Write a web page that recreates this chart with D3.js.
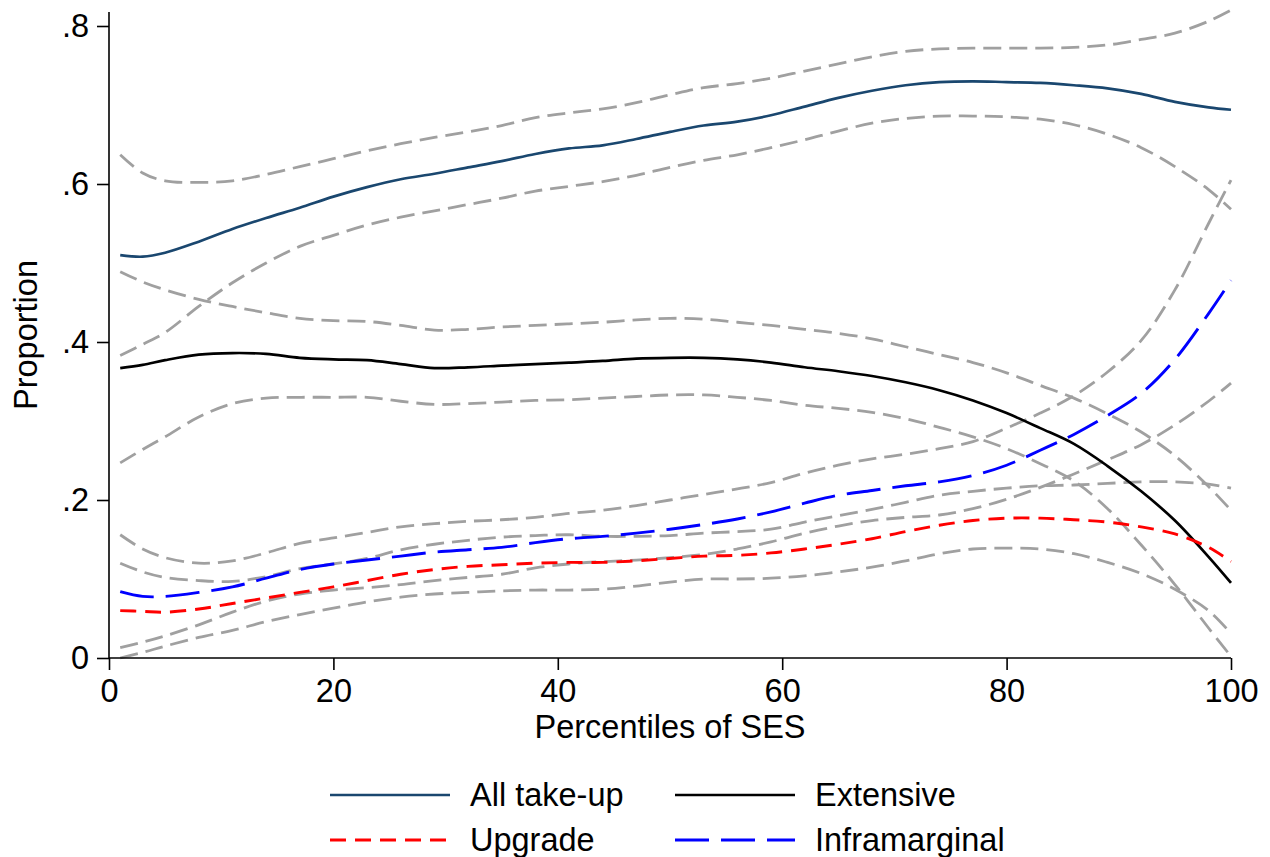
<!DOCTYPE html>
<html>
<head>
<meta charset="utf-8">
<script src="https://cdn.jsdelivr.net/npm/d3@7"></script>
<style>
  body { margin: 0; background: #fff; }
  svg { display: block; font-family: "Liberation Sans", Arial, sans-serif; }
</style>
</head>
<body>
<svg id="chart" width="1270" height="857"></svg>
<script>
// percentile grid shared by every series
const pct = [1, 3, 5, 8, 11, 14, 17, 20, 23, 26, 29, 32, 35, 38, 41, 44, 47, 50, 53, 56, 59, 62, 65, 68, 71, 74, 77, 80, 83, 86, 89, 92, 95, 98, 100];

const allTakeUp = [.510, .508, .513, .527, .543, .557, .570, .584, .596, .606, .613, .621, .629, .638, .645, .649, .657, .666, .674, .679, .687, .698, .709, .718, .725, .729, .730, .729, .728, .725, .721, .714, .704, .697, .694];
const allHi = [.637, .614, .604, .602, .604, .612, .622, .632, .642, .651, .659, .666, .674, .684, .690, .695, .703, .713, .722, .727, .734, .743, .752, .761, .768, .771, .772, .772, .772, .773, .776, .783, .791, .806, .820];
const allLo = [.383, .397, .412, .445, .475, .500, .521, .535, .548, .558, .566, .574, .582, .591, .597, .603, .611, .621, .630, .637, .646, .656, .667, .677, .683, .686, .686, .685, .682, .675, .663, .646, .622, .593, .568];

const extensive = [.367, .371, .377, .384, .386, .385, .380, .378, .377, .372, .367, .368, .370, .372, .374, .376, .379, .380, .380, .378, .374, .368, .363, .357, .349, .339, .326, .310, .291, .271, .243, .211, .174, .128, .095];
const extHi = [.489, .476, .466, .454, .445, .437, .430, .427, .426, .421, .415, .416, .419, .421, .423, .425, .428, .430, .429, .425, .421, .416, .411, .404, .394, .384, .374, .361, .345, .329, .309, .286, .256, .217, .187];
const extLo = [.247, .264, .280, .305, .322, .329, .330, .330, .330, .325, .321, .322, .324, .326, .327, .329, .331, .333, .333, .330, .326, .320, .316, .311, .303, .292, .280, .265, .246, .224, .189, .143, .093, .038, .002];

const upgrade = [.060, .059, .058, .062, .069, .076, .083, .090, .098, .106, .112, .116, .118, .120, .121, .121, .123, .126, .129, .130, .133, .138, .144, .151, .160, .168, .174, .177, .177, .175, .172, .166, .157, .140, .122];
const upgHi = [.120, .109, .102, .098, .097, .103, .113, .119, .126, .137, .144, .149, .153, .155, .156, .154, .154, .155, .158, .160, .163, .172, .180, .188, .197, .206, .211, .215, .218, .219, .221, .223, .223, .220, .215];
const upgLo = [.000, .007, .015, .026, .035, .046, .055, .063, .071, .077, .081, .083, .085, .086, .086, .087, .091, .096, .100, .100, .101, .104, .109, .115, .123, .132, .138, .139, .138, .132, .121, .107, .087, .060, .031];

const inframarginal = [.084, .078, .078, .083, .090, .101, .112, .119, .124, .129, .134, .137, .140, .146, .151, .154, .158, .163, .169, .176, .185, .196, .206, .212, .218, .223, .231, .244, .263, .283, .307, .335, .378, .436, .478];
const infHi = [.156, .138, .127, .120, .123, .133, .145, .152, .159, .166, .170, .173, .175, .178, .183, .187, .193, .200, .207, .214, .222, .234, .244, .252, .258, .265, .274, .291, .310, .332, .362, .402, .466, .550, .605];
const infLo = [.013, .020, .028, .042, .058, .072, .081, .086, .089, .093, .098, .102, .106, .114, .119, .122, .124, .127, .131, .138, .147, .158, .167, .174, .178, .181, .189, .201, .216, .233, .251, .270, .295, .325, .348];

const xTicks = [0, 20, 40, 60, 80, 100];
const yTicks = [0, 0.2, 0.4, 0.6, 0.8];

const svg = d3.select("#chart");
const fontSize = 32.5;

const x = d3.scaleLinear().domain([0, 100]).range([109, 1231]);
const y = d3.scaleLinear().domain([0, 0.8]).range([658, 26]);

const ciStyle = { color: "#a0a0a0", width: 2.8, dash: "18,8" };
const mainSeries = [
  { name: "All take-up", values: allTakeUp, color: "#1a476f", width: 2.7, dash: null },
  { name: "Extensive", values: extensive, color: "#000000", width: 2.7, dash: null },
  { name: "Upgrade", values: upgrade, color: "#ff0000", width: 2.9, dash: "16,9" },
  { name: "Inframarginal", values: inframarginal, color: "#0000ff", width: 2.9, dash: "34,12" }
];
const ciSeries = [allHi, allLo, extHi, extLo, upgHi, upgLo, infHi, infLo];

const line = d3
  .line()
  .x((d, i) => x(pct[i]))
  .y((d) => y(d))
  .curve(d3.curveCatmullRom.alpha(0.5));

// confidence bands first, estimates on top
svg
  .append("g")
  .selectAll("path")
  .data(ciSeries)
  .join("path")
  .attr("d", line)
  .attr("fill", "none")
  .attr("stroke", ciStyle.color)
  .attr("stroke-width", ciStyle.width)
  .attr("stroke-dasharray", ciStyle.dash);

svg
  .append("g")
  .selectAll("path")
  .data(mainSeries)
  .join("path")
  .attr("d", (d) => line(d.values))
  .attr("fill", "none")
  .attr("stroke", (d) => d.color)
  .attr("stroke-width", (d) => d.width)
  .attr("stroke-dasharray", (d) => d.dash);

// axes
const fmtY = (v) => (v === 0 ? "0" : d3.format(".1f")(v).replace(/^0/, ""));

const yAxis = svg
  .append("g")
  .attr("transform", `translate(${x(0)},0)`)
  .call(d3.axisLeft(y).tickValues(yTicks).tickFormat(fmtY).tickSize(12).tickPadding(8));
yAxis.select(".domain").attr("d", `M0,${y(0)}V12`);

const xAxis = svg
  .append("g")
  .attr("transform", `translate(0,${y(0)})`)
  .call(d3.axisBottom(x).tickValues(xTicks).tickSize(12).tickPadding(9));
xAxis.select(".domain").attr("d", `M${x(0)},0H${x(100)}`);
xAxis.selectAll(".tick text").attr("dy", null).attr("y", 44);

[yAxis, xAxis].forEach((g) => {
  g.selectAll(".domain, .tick line").attr("stroke", "#000").attr("stroke-width", 1.6);
  g.selectAll(".tick text")
    .attr("fill", "#000")
    .style("font-size", fontSize + "px")
    .style("font-family", "'Liberation Sans', Arial, sans-serif");
});

svg
  .append("text")
  .attr("x", (x(0) + x(100)) / 2)
  .attr("y", 738)
  .attr("text-anchor", "middle")
  .style("font-size", fontSize + "px")
  .text("Percentiles of SES");

svg
  .append("text")
  .attr("transform", `translate(37,${(y(0) + 12) / 2}) rotate(-90)`)
  .attr("text-anchor", "middle")
  .style("font-size", fontSize + "px")
  .text("Proportion");

// legend, two columns by two rows
const legend = svg
  .append("g")
  .selectAll("g")
  .data(mainSeries)
  .join("g")
  .attr("transform", (d, i) => `translate(${i % 2 === 0 ? 330 : 675},${i < 2 ? 795 : 840})`);

legend
  .append("line")
  .attr("x1", 0)
  .attr("x2", 120)
  .attr("stroke", (d) => d.color)
  .attr("stroke-width", (d) => d.width)
  .attr("stroke-dasharray", (d) => d.dash);

legend
  .append("text")
  .attr("x", 140)
  .attr("y", 11)
  .style("font-size", fontSize + "px")
  .text((d) => d.name);
</script>
</body>
</html>
